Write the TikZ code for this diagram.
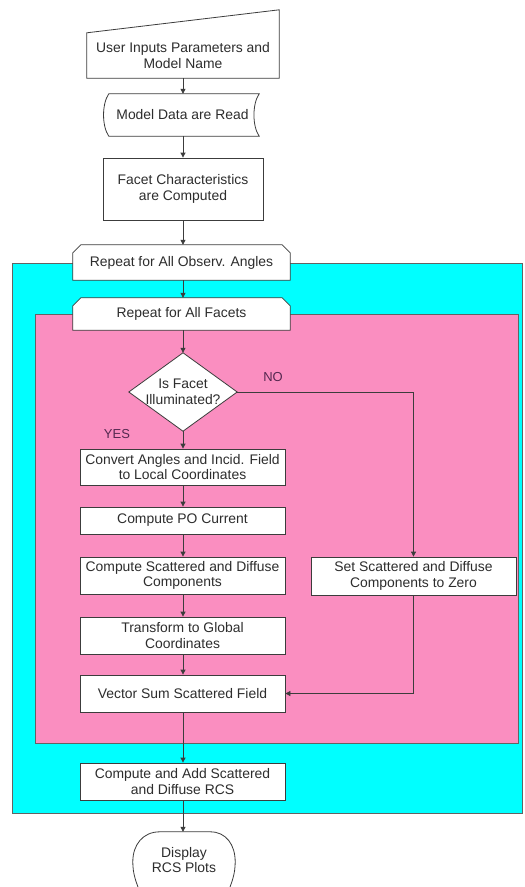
\documentclass[tikz,border=0pt]{standalone}
\usepackage{fontspec}
\setmainfont{Liberation Sans}
\usetikzlibrary{arrows.meta,calc}

\definecolor{loopcyan}{RGB}{0,255,255}
\definecolor{looppink}{RGB}{250,142,192}
\definecolor{edgegray}{RGB}{60,60,60}
\definecolor{txtgray}{RGB}{45,45,45}
\definecolor{answer}{RGB}{85,40,80}

\tikzset{
  every node/.style={font=\fontsize{13.9}{15.5}\selectfont, text=txtgray},
  shapebox/.style={inner sep=0pt, align=center},
  plainbox/.style={shapebox, draw=edgegray, fill=white, line width=0.8pt},
  outline/.style={draw=edgegray, fill=white, line width=0.8pt},
  flow/.style={draw=edgegray, line width=0.8pt, -{Triangle[length=5pt,width=5pt]}},
  answerlabel/.style={text=answer, font=\fontsize{13}{15}\selectfont},
}

\begin{document}
\begin{tikzpicture}[x=1pt,y=-1pt]
\useasboundingbox[fill=white] (0,0) rectangle (525,887);

% loop regions
\draw[fill=loopcyan, draw=edgegray!80, line width=0.8pt] (12,263) rectangle (522,813);
\draw[fill=looppink, draw=edgegray!80, line width=0.8pt] (35,314) rectangle (518,743);

% frames of the special shapes (outlines drawn below, text added afterwards)
\node[shapebox, minimum width=192pt, minimum height=45pt] (input) at (183,55.5) {};
\node[shapebox, minimum width=150pt, minimum height=42pt] (read) at (184,115) {};
\node[shapebox, minimum width=217pt, minimum height=35pt] (obs) at (181.5,262.5) {};
\node[shapebox, minimum width=217pt, minimum height=32pt] (facets) at (181.5,314) {};
\node[shapebox, minimum width=108pt, minimum height=78pt] (illum) at (183,392) {};
\node[shapebox, minimum width=102pt, minimum height=56pt] (disp) at (184,860) {};

% process boxes
\node[plainbox, minimum width=160pt, minimum height=62pt] (char) at (183,189)
  {Facet Characteristics\\are Computed};
\node[plainbox, minimum width=205pt, minimum height=36pt] (convert) at (182.5,467)
  {Convert Angles and Incid. Field\\to Local Coordinates};
\node[plainbox, minimum width=205pt, minimum height=27pt] (po) at (182.5,520.5)
  {Compute PO Current};
\node[plainbox, minimum width=205pt, minimum height=37pt] (scat) at (182.5,575.5)
  {Compute Scattered and Diffuse\\Components};
\node[plainbox, minimum width=205pt, minimum height=37pt] (glob) at (182.5,635.5)
  {Transform to Global\\Coordinates};
\node[plainbox, minimum width=205pt, minimum height=37pt] (vsum) at (182.5,693.5)
  {Vector Sum Scattered Field};
\node[plainbox, minimum width=205pt, minimum height=38pt] (zero) at (413.5,576)
  {Set Scattered and Diffuse\\Components to Zero};
\node[plainbox, minimum width=205pt, minimum height=37pt] (rcs) at (182.5,781.5)
  {Compute and Add Scattered\\and Diffuse RCS};

% manual input
\draw[outline] (input.south west) -- (input.north west)
  -- ($(input.north east)+(0,-23)$) -- (input.south east) -- cycle;
% stored data
\draw[outline] (read.north west) -- (read.north east)
  .. controls ($(read.north east)+(-7,10)$) and ($(read.south east)+(-7,-10)$) .. (read.south east)
  -- (read.south west)
  .. controls ($(read.south west)+(-7,-10)$) and ($(read.north west)+(-7,10)$) .. (read.north west) -- cycle;
% loop limits
\foreach \lp in {obs,facets}{
  \draw[outline] (\lp.south west) -- ($(\lp.north west)+(0,8)$) -- ($(\lp.north west)+(8,0)$)
    -- ($(\lp.north east)+(-8,0)$) -- ($(\lp.north east)+(0,8)$) -- (\lp.south east) -- cycle;
}
% decision
\draw[outline] (illum.north) -- (illum.east) -- (illum.south) -- (illum.west) -- cycle;
% display
\draw[outline] ($(disp.north west)+(27,0)$) -- ($(disp.north east)+(-25,0)$)
  .. controls ($(disp.north east)+(-9,0)$) and ($(disp.north east)+(0,13)$) .. ($(disp.north east)+(0,30)$)
  .. controls ($(disp.north east)+(0,42)$) and ($(disp.south east)+(-3,-6)$) .. ($(disp.south east)+(-9,8)$)
  -- ($(disp.south west)+(9,8)$)
  .. controls ($(disp.south west)+(3,-6)$) and ($(disp.north west)+(0,42)$) .. ($(disp.north west)+(0,30)$)
  .. controls ($(disp.north west)+(0,13)$) and ($(disp.north west)+(10,0)$) .. ($(disp.north west)+(27,0)$);

% texts of the special shapes
\node[shapebox] (inputtxt) at (input.center) {User Inputs Parameters and\\Model Name};
\node[shapebox] (readtxt) at (182.5,115) {Model Data are Read};
\node[shapebox] (obstxt) at (obs.center) {Repeat for All Observ. Angles};
\node[shapebox] (facetstxt) at (facets.center) {Repeat for All Facets};
\node[shapebox] (illumtxt) at (illum.center) {Is Facet\\Illuminated?};
\node[shapebox] (disptxt) at (disp.center) {Display\\RCS Plots};

% connectors
\draw[flow] (input.south) -- (read.north -| input.south);
\draw[flow] (read.south -| char.north) -- (char.north);
\draw[flow] (char.south) -- (obs.north -| char.south);
\draw[flow] (obs.south -| illum.north) -- (facets.north -| illum.north);
\draw[flow] (facets.south -| illum.north) -- (illum.north);
\draw[flow] (illum.south) -- (convert.north -| illum.south);
\draw[flow] (convert.south -| illum.south) -- (po.north -| illum.south);
\draw[flow] (po.south -| illum.south) -- (scat.north -| illum.south);
\draw[flow] (scat.south -| illum.south) -- (glob.north -| illum.south);
\draw[flow] (glob.south -| illum.south) -- (vsum.north -| illum.south);
\draw[flow] (vsum.south -| illum.south) -- (rcs.north -| illum.south);
\draw[flow] (rcs.south -| illum.south) -- (disp.north -| illum.south);
\draw[flow] (illum.east) -| (zero.north);
\draw[flow] (zero.south) |- (vsum.east);

\node[answerlabel] (no) at (273,377) {NO};
\node[answerlabel] (yes) at (117,434) {YES};
\end{tikzpicture}
\end{document}
